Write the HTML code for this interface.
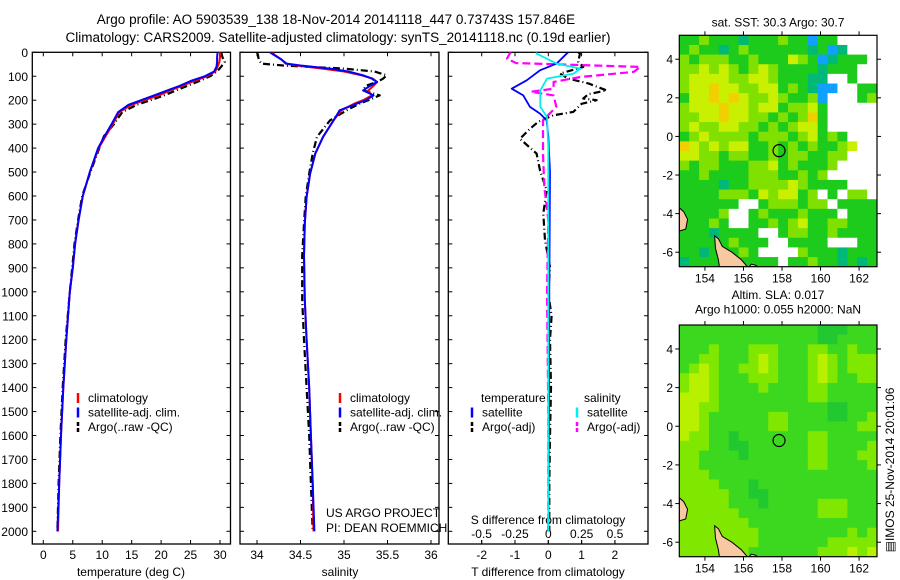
<!DOCTYPE html>
<html><head><meta charset="utf-8">
<style>
html,body{margin:0;padding:0;background:#fff;}
svg{display:block;font-family:"Liberation Sans",sans-serif;}
</style></head>
<body>
<svg id="root" width="900" height="580" viewBox="0 0 900 580" xmlns="http://www.w3.org/2000/svg">
<text x="336" y="24" font-size="13.5" text-anchor="middle">Argo profile: AO 5903539_138 18-Nov-2014 20141118_447 0.73743S 157.846E</text>
<text x="338" y="42" font-size="13.5" text-anchor="middle">Climatology: CARS2009. Satellite-adjusted climatology: synTS_20141118.nc (0.19d earlier)</text>
</svg>
<script>
// ---------- data ----------
const depthT = [0,20,40,60,80,100,120,140,160,180,200,220,250,300,350,400,500,600,700,800,900,1000,1200,1400,1600,1800,2000];
const climT = [30.0,30.0,29.9,29.6,29.2,27.8,25.6,23.6,21.5,19.6,17.2,14.9,12.9,11.8,10.6,9.4,7.9,6.7,6.0,5.4,5.0,4.5,3.9,3.4,3.0,2.7,2.5];
const satT  = [29.6,29.5,29.5,29.4,29.0,27.4,25.0,23.2,21.0,18.8,16.6,14.4,12.7,11.6,10.4,9.3,7.9,6.7,6.0,5.4,5.0,4.5,3.9,3.4,3.0,2.7,2.4];
const argoT = [30.2,30.4,30.8,30.2,29.5,28.3,26.5,24.5,22.5,20.5,18.2,15.8,13.4,12.0,10.3,9.5,8.0,6.6,5.9,5.3,4.9,4.5,3.8,3.3,2.9,2.6,2.4];

const depthS = [0,10,30,47,55,68,80,96,110,124,140,159,180,200,214,242,284,353,423,507,604,715,850,1035,1200,1400,1600,1800,2000];
const climS = [34.18,34.2,34.28,34.33,34.45,34.75,35.0,35.2,35.33,35.38,35.34,35.28,35.32,35.22,35.12,34.97,34.88,34.76,34.67,34.61,34.57,34.55,34.54,34.55,34.57,34.6,34.62,34.64,34.65];
const satS  = [34.15,34.19,34.28,34.34,34.5,34.84,35.05,35.22,35.32,35.38,35.3,35.22,35.34,35.25,35.15,34.95,34.88,34.76,34.67,34.61,34.57,34.55,34.54,34.55,34.57,34.6,34.62,34.64,34.66];
const argoS = [34.0,34.01,34.02,34.05,34.3,35.0,35.35,35.49,35.45,35.38,35.25,35.22,35.41,35.28,35.18,35.03,34.84,34.69,34.64,34.6,34.56,34.54,34.52,34.52,34.54,34.57,34.6,34.62,34.64];

const depthSatDT = [0,6,47,75,117,152,180,228,256,284,350,500,1000,1500,2000];
const satDT = [0.6,0.55,0.25,-0.25,-0.65,-1.1,-0.75,-0.55,-0.25,-0.05,0.0,0.05,0.03,0.02,0.0];
const depthArgoDT = [0,6,40,61,89,110,130,159,175,193,200,215,249,263,290,319,361,423,493,576,674,785,896,1007,1100,1200,1400,1600,1800,2000];
const argoDT = [0.9,0.95,0.9,1.05,0.35,0.6,1.2,1.75,1.2,1.05,1.45,1.0,0.75,0.15,-0.3,-0.55,-0.85,-0.35,-0.25,-0.05,-0.15,-0.1,0.05,0.0,0.1,0.05,0.08,0.05,0.03,0.03];
const depthSatDS = [0,6,47,68,89,110,159,228,270,400,1000,2000];
const satDS = [-0.09,-0.087,0.063,0.24,0.19,-0.01,-0.06,-0.06,-0.01,0.0,0.0,0.0];
const depthArgoDS = [0,6,27,45,61,82,103,124,152,165,180,228,284,423,562,700,1000,1500,2000];
const argoDS = [-0.28,-0.29,-0.31,-0.24,0.69,0.64,0.24,0.04,0.04,-0.13,0.04,0.06,-0.04,-0.04,-0.03,0.0,-0.01,0.0,0.0];

const depthTicks = [0,100,200,300,400,500,600,700,800,900,1000,1100,1200,1300,1400,1500,1600,1700,1800,1900,2000];
const tTicks = [0,5,10,15,20,25,30];
const sTicks = [34,34.5,35,35.5,36];
const dTTicks = [-2,-1,0,1,2];
const dSTicks = [-0.5,-0.25,0,0.25,0.5];
const dSTickLabels = ["-0.5","-0.25","0","0.25","0.5"];
const lonTicks = [154,156,158,160,162];
const latTicks = [4,2,0,-2,-4,-6];

const sstRows = [
"gglgggcggglggbggwwww","glggcglggggggcgbcwww","lglllgglgggylgbcgggw","llylylglylggggcgggww",
"lyyyyllyylgggccwwgww","lyyoyyllyyglgcbbwwgg","gyyoyoyllylgglbwwwgl","lyyyoyylyygllygwwwww",
"llyyoyyllglglogwwwww","lyllyyllglglyygwwwww","glyllllglllglyglgwww","oylylyygglglglgglyww",
"yyllgllgglgllggllwww","lgllgggllyglggglwwww","gglgggglllgglglwwwww","ggggcggllllylggggwww",
"gggglllgylyyglwgwllw","ggggggwwglllgllwgggg","gggglwwglggglgggwggg","ggglgwwgglglyggllggg",
"gggcggggwwgllgglgggg","ggggglgggwwggggwwwgg","ggcggglgwwwwlgggcggg","cgggglggggwgglggcgcg"];
const slaRows = [
"mmmmmmmmmmmmmmdddmmm","mmmmmmmmmmmmmmddmmmm","mmmlmmmlllmmmllmmlmm","mmllmmmlylmmmlylmlll",
"mlylmmllylmmmlylmlll","lyylmmmlllmmmlylmmll","lyylmmmmlmmmmllmmmmm","yyylmmmmmmmmmllmmmmm",
"yyllmmmmmmmmmmmddmmm","yylmmmmmmllmmmmddmml","yylmmmmmmllmmmmmmmll","yllmmdmmmmmmmllmmmmm",
"lllmmddmmmmmmllmmmml","llmmmmdmmmmmmllmmmll","llmmmmmmmmmmmllmmmml","lllmmmmmmmmmmmmmmmmm",
"llllmmmdmmmmmmmmmmmm","lllllmmddmmmmmmmmmmm","lllllmmmdmmmmmlllmmm","llllllmmmmmmmmlllmmm",
"lllllllmmmmmmmmmmmmm","llllllllmmmmmmmmmlml","llllllllmmmmmmmlllll","lllllllmmmmmmmlllyly"];
const argoLon = 157.846, argoLat = -0.737;
const landA = [[152.67,-3.7],[152.9,-3.9],[153.1,-4.3],[153.0,-4.8],[152.67,-4.9]];
const landB = [[154.5,-5.15],[154.7,-5.3],[154.9,-5.7],[155.4,-6.0],[155.9,-6.4],[156.2,-6.75],[154.75,-6.75],[154.7,-6.4],[154.55,-5.8]];
const landC = [[156.3,-6.75],[156.4,-6.62],[156.65,-6.68],[156.7,-6.75]];

// ---------- geometry ----------
const NS = "http://www.w3.org/2000/svg";
const root = document.getElementById('root');
const yTop = 52.3, yBot = 544;
const yD = d => yTop + d * 0.2395;
const xT = t => 43.3 + t * 5.89;
const xS = s => 257 + (s - 34) * 87;
const xDT = v => 548.3 + v * 33.3;
const xDS = v => 548.3 + v * 133.3;
const panels = [{x0:32.3,x1:230.5},{x0:240,x1:439},{x0:448.3,x1:648}];

function mk(tag, attrs, parent){
  const e = document.createElementNS(NS, tag);
  for (const k in attrs) e.setAttribute(k, attrs[k]);
  (parent||root).appendChild(e);
  return e;
}
function txt(x,y,s,size,anchor,parent){
  const e = mk('text',{x:x,y:y,'font-size':size||12,'text-anchor':anchor||'start'},parent);
  e.textContent = s;
  return e;
}

const defs = mk('defs',{});
panels.forEach((p,i)=>{
  const cp = mk('clipPath',{id:'pc'+i},defs);
  mk('rect',{x:p.x0,y:yTop,width:p.x1-p.x0,height:yBot-yTop},cp);
});

panels.forEach((p,i)=>{
  const g = mk('g',{});
  
  
  const r = mk('rect',{x:p.x0,y:yTop,width:p.x1-p.x0,height:yBot-yTop,fill:'none',stroke:'#000','stroke-width':1.3},g);
  
  
  depthTicks.forEach(d=>{
    const t1 = mk('line',{x1:p.x0,x2:p.x0+4,y1:yD(d),y2:yD(d),stroke:'#000'},g);
    
    
    const t2 = mk('line',{x1:p.x1-4,x2:p.x1,y1:yD(d),y2:yD(d),stroke:'#000'},g);
    
    
  });
});
depthTicks.forEach(d=>{
  const l = txt(28, yD(d)+4.5, String(d), 12, 'end');
  
  
});

function xTicks(vals, labels, fx, yLab, withTop){
  vals.forEach((v,i)=>{
    const x = fx(v);
    const b = mk('line',{x1:x,x2:x,y1:yBot,y2:yBot-4,stroke:'#000'});
    
    
    if (withTop){
      const t = mk('line',{x1:x,x2:x,y1:yTop,y2:yTop+4,stroke:'#000'});
      
      
    }
    const l = txt(x, yLab, labels ? labels[i] : String(v), 12, 'middle');
    
    
  });
}
xTicks(tTicks, null, xT, 559, true);
xTicks(sTicks, null, xS, 559, true);
xTicks(dTTicks, null, xDT, 559, true);
xTicks(dSTicks, dSTickLabels, xDS, 538, false);

let e;
e = txt(131, 576, 'temperature (deg C)', 12, 'middle');


e = txt(340, 576, 'salinity', 12, 'middle');


e = txt(548, 576, 'T difference from climatology', 12, 'middle');


e = txt(548, 524, 'S difference from climatology', 12, 'middle');


e = txt(326, 517, 'US ARGO PROJECT', 12, 'start');


e = txt(326, 532, 'PI: DEAN ROEMMICH', 12, 'start');



function series(depths, vals, fx, color, dash, width, clip, name){
  const pts = depths.map((d,i)=> fx(vals[i]).toFixed(1)+','+yD(d).toFixed(1)).join(' ');
  const a = {points:pts,fill:'none',stroke:color,'stroke-width':width,'clip-path':'url(#'+clip+')','stroke-linejoin':'round'};
  if (dash) a['stroke-dasharray'] = dash;
  const pl = mk('polyline', a);
  
  
}
series(depthT, argoT, xT, '#000', '7,3,1,3', 2.2, 'pc0', 'argo-temperature-line');
series(depthT, climT, xT, '#f00', null, 2, 'pc0', 'climatology-temperature-line');
series(depthT, satT, xT, '#00f', null, 2, 'pc0', 'satellite-temperature-line');
series(depthS, argoS, xS, '#000', '7,3,1,3', 2.2, 'pc1', 'argo-salinity-line');
series(depthS, climS, xS, '#f00', null, 2, 'pc1', 'climatology-salinity-line');
series(depthS, satS, xS, '#00f', null, 2, 'pc1', 'satellite-salinity-line');
series(depthArgoDT, argoDT, xDT, '#000', '7,3,1,3', 2.2, 'pc2', 'argo-t-difference-line');
series(depthArgoDS, argoDS, xDS, '#f0f', '8,4', 2.2, 'pc2', 'argo-s-difference-line');
series(depthSatDT, satDT, xDT, '#00f', null, 1.8, 'pc2', 'satellite-t-difference-line');
series(depthSatDS, satDS, xDS, '#0ee', null, 1.8, 'pc2', 'satellite-s-difference-line');

function legItem(x, y, color, dash, label, name){
  const g = mk('g',{});
  
  
  const a = {x1:x,x2:x,y1:y-9,y2:y+1,stroke:color,'stroke-width':2.5};
  if (dash) a['stroke-dasharray'] = '4,2';
  mk('line', a, g);
  txt(x+10, y, label, 12, 'start', g);
}
[[78,'climatology','#f00',null],[78,'satellite-adj. clim.','#00f',null],[78,'Argo(..raw -QC)','#000',1]].forEach((it,i)=>{
  legItem(it[0], 402+i*14.5, it[2], it[3], it[1], 'legend-entry-temp-'+i);
  legItem(340, 402+i*14.5, it[2], it[3], it[1], 'legend-entry-sal-'+i);
});
e = txt(481, 402, 'temperature', 12, 'start');


e = txt(584, 402, 'salinity', 12, 'start');


legItem(472, 416.5, '#00f', null, 'satellite', 'legend-entry-t-satellite');
legItem(472, 431, '#000', 1, 'Argo(-adj)', 'legend-entry-t-argo');
legItem(577, 416.5, '#0ee', null, 'satellite', 'legend-entry-s-satellite');
legItem(577, 431, '#f0f', 1, 'Argo(-adj)', 'legend-entry-s-argo');

// ---------- maps ----------
const lon0 = 152.67, lon1 = 162.93, lat0 = 5.24, lat1 = -6.75;
const mapX0 = 679.3, mapX1 = 877;
const sstCol = {g:'#1ccb1c',l:'#80e000',y:'#c8f000',o:'#f0d000',c:'#00b878',b:'#10a0ff',w:'#ffffff'};
const slaCol = {m:'#3cd820',d:'#22c830',l:'#80e800',y:'#b8f000'};
function drawMap(top, bot, rows, cols, name, titleLines){
  const g = mk('g',{});
  
  
  const cid = name+'-clip';
  const cp = mk('clipPath',{id:cid},defs);
  mk('rect',{x:mapX0,y:top,width:mapX1-mapX0,height:bot-top},cp);
  const fx = lon => mapX0 + (lon-lon0)/(lon1-lon0)*(mapX1-mapX0);
  const fy = lat => top + (lat0-lat)/(lat0-lat1)*(bot-top);
  const inner = mk('g',{'clip-path':'url(#'+cid+')'},g);
  const nr = rows.length, nc = rows[0].length;
  const cw = (mapX1-mapX0)/nc, ch = (bot-top)/nr;
  rows.forEach((row,j)=>{
    for (let i=0;i<nc;i++){
      const c = mk('rect',{x:(mapX0+i*cw).toFixed(2),y:(top+j*ch).toFixed(2),width:(cw+0.4).toFixed(2),height:(ch+0.4).toFixed(2),fill:cols[row[i]]},inner);
      
      
    }
  });
  [landA,landB,landC].forEach(poly=>{
    const p = mk('polygon',{points:poly.map(q=>fx(q[0]).toFixed(1)+','+fy(q[1]).toFixed(1)).join(' '),fill:'#f8c8a0',stroke:'#000','stroke-width':1},inner);
    
    
  });
  const fr = mk('rect',{x:mapX0,y:top,width:mapX1-mapX0,height:bot-top,fill:'none',stroke:'#000','stroke-width':1.2},g);
  
  
  const circ = mk('circle',{cx:fx(argoLon),cy:fy(argoLat),r:6,fill:'none',stroke:'#000','stroke-width':1.2},g);
  
  
  lonTicks.forEach(lo=>{
    const x = fx(lo);
    mk('line',{x1:x,x2:x,y1:top,y2:top-4,stroke:'#000'},g);
    mk('line',{x1:x,x2:x,y1:bot,y2:bot+4,stroke:'#000'},g);
    const l = txt(x, bot+16, String(lo), 12, 'middle', g);
    
    
  });
  latTicks.forEach(la=>{
    const y = fy(la);
    mk('line',{x1:mapX0,x2:mapX0-4,y1:y,y2:y,stroke:'#000'},g);
    mk('line',{x1:mapX1,x2:mapX1+4,y1:y,y2:y,stroke:'#000'},g);
    const l = txt(673, y+4.5, String(la), 12, 'end', g);
    
    
  });
  titleLines.forEach((s,k)=>{
    const t = txt(778, titleLines.length===1 ? top-9 : top-26+k*14.5, s, 12, 'middle', g);
    
    
  });
}
drawMap(35.3, 266.7, sstRows, sstCol, 'sst-map', ['sat. SST: 30.3 Argo: 30.7']);
drawMap(325, 556.7, slaRows, slaCol, 'sla-map', ['Altim. SLA: 0.017','Argo h1000: 0.055 h2000: NaN']);

e = txt(0, 0, '\u25A4IMOS 25-Nov-2014 20:01:06', 12, 'middle');
e.setAttribute('transform', 'translate(894,470) rotate(-90)');


</script>
</body></html>
